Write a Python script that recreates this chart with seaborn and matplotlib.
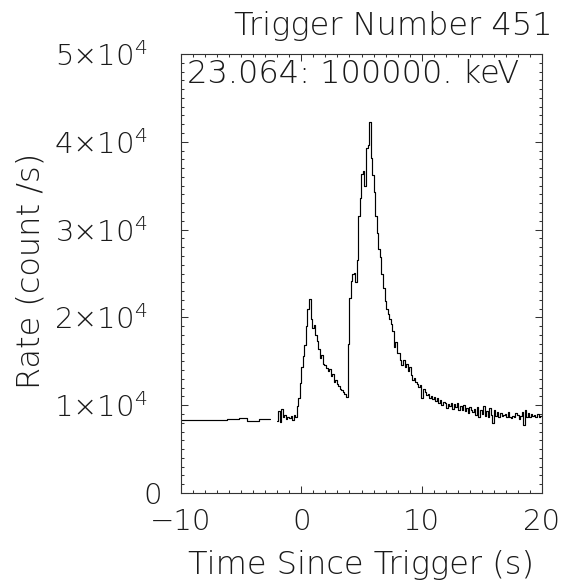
import numpy as np
import pandas as pd
import matplotlib
matplotlib.use("Agg")
import matplotlib.pyplot as plt
from matplotlib.ticker import FixedLocator, FixedFormatter, MultipleLocator
from matplotlib.transforms import ScaledTranslation
import seaborn as sns

# Pre-trigger 1.024 s data: bin edges (s) and rates (counts/s)
pre_edges = [-10.6, -9.55, -8.1, -6.6, -6.2, -5.2, -4.5, -3.55, -3.0, -2.6]
pre_rate = [8300, 8310, 8330, 8370, 8400, 8520, 8170, 8380, 8400]

# Post-trigger binned data, 0.128 s bins starting at -2.048 s (counts/s)
bin_start = -2.048
bin_width = 0.128
rate = [
    8200, 9300, 8100, 9600, 8600, 8900, 8400, 8700,
    8500, 8800, 8300, 8900, 8600, 9900, 10800, 12500,
    14400, 15600, 16800, 19000, 21000, 22100, 19800, 18800,
    19100, 18000, 17300, 16400, 15400, 15700, 14700, 14600,
    14200, 13900, 14100, 13300, 13500, 12600, 12900, 12400,
    12200, 11900, 11700, 11500, 11300, 10900, 17000, 22200,
    24200, 24900, 25100, 24000, 26500, 31500, 33600, 36300,
    36700, 35000, 39300, 39600, 42300, 38200, 36200, 34300,
    31500, 29600, 27800, 26900, 25000, 23300, 21900, 21000,
    20400, 19800, 19300, 18500, 16600, 17200, 15900, 16000,
    15200, 14600, 15100, 14300, 14700, 13900, 14300, 13400,
    12900, 13100, 12600, 12400, 12100, 12300, 10800, 11900,
    11500, 11200, 11300, 10800, 11100, 10700, 10900, 10500,
    10800, 10300, 10600, 10000, 10400, 10200, 9700, 10100,
    9900, 10300, 9600, 10100, 9800, 10200, 9500, 9900,
    9400, 10000, 9300, 9700, 9100, 9800, 9400, 9200,
    9600, 8900, 9800, 8700, 9500, 9000, 9900, 8800,
    9300, 8600, 9700, 8900, 8000, 9400, 8800, 9200,
    8700, 9100, 8800, 8900, 9000, 8600, 9200, 8700,
    8500, 8800, 8600, 9100, 8900, 8400, 8800, 9200,
    7700, 9400, 8700, 9100, 8600, 9000, 8800, 8900,
    8700, 9000, 8600, 8800, 8900, 8700, 8800, 8600,
]

x_ticks = [-10, 0, 10, 20]
x_tick_labels = ["\u221210", "0", "10", "20"]
y_ticks = [0, 10000, 20000, 30000, 40000, 50000]
y_tick_labels = ["0", "1\u00d710$^{4}$", "2\u00d710$^{4}$", "3\u00d710$^{4}$",
                 "4\u00d710$^{4}$", "5\u00d710$^{4}$"]

title = "Trigger Number 451"
band_label = "23.064: 100000. keV"
x_label = "Time Since Trigger (s)"
y_label = "Rate (count /s)"

sns.set_style("ticks")
plt.rcParams["font.family"] = ["DejaVu Sans"]
plt.rcParams["font.weight"] = "light"
plt.rcParams["axes.labelweight"] = "light"
plt.rcParams["mathtext.fontset"] = "custom"
plt.rcParams["mathtext.rm"] = "DejaVu Sans:light"
plt.rcParams["mathtext.default"] = "rm"

ink = "#1a1a1a"
fs_tick = 21
fs_text = 23

fig = plt.figure(figsize=(5.63, 5.84), dpi=100)
ax = fig.add_axes([181 / 563, 1 - 493 / 584, 361 / 563, 439 / 584])

t_mid = bin_start + bin_width * (np.arange(len(rate)) + 0.5)
post = pd.DataFrame({"time": t_mid, "rate": rate})
pre = pd.DataFrame({"time": pre_edges, "rate": pre_rate + [pre_rate[-1]]})

sns.lineplot(data=pre, x="time", y="rate", estimator=None, drawstyle="steps-post",
             color="k", linewidth=0.85, ax=ax)
sns.lineplot(data=post, x="time", y="rate", estimator=None, drawstyle="steps-mid",
             color="k", linewidth=0.85, ax=ax)

ax.set_xlim(-10, 20)
ax.set_ylim(0, 50000)

ax.xaxis.set_major_locator(FixedLocator(x_ticks))
ax.xaxis.set_major_formatter(FixedFormatter(x_tick_labels))
ax.xaxis.set_minor_locator(MultipleLocator(1))
ax.yaxis.set_major_locator(FixedLocator(y_ticks))
ax.yaxis.set_major_formatter(FixedFormatter(y_tick_labels))
ax.yaxis.set_minor_locator(MultipleLocator(1000))

ax.tick_params(which="both", direction="in", top=True, right=True,
               labeltop=False, labelright=False, color="#333333", width=0.75)
ax.tick_params(which="major", length=5)
ax.tick_params(which="minor", length=2.5)
ax.tick_params(axis="x", which="major", pad=11, labelsize=fs_tick, labelcolor=ink)
ax.tick_params(axis="y", which="major", pad=24, labelsize=fs_tick, labelcolor=ink)

# the plain zero label sits closer to the axis than the power-of-ten labels
zero_tick = ax.yaxis.get_major_ticks()[0]
zero_tick.label1.set_transform(zero_tick.label1.get_transform()
                               + ScaledTranslation(14 / 100, 0, fig.dpi_scale_trans))

for sp in ax.spines.values():
    sp.set_visible(True)
    sp.set_color("#333333")
    sp.set_linewidth(0.8)

ax.set_xlabel(x_label, fontsize=fs_text, color=ink)
ax.set_ylabel(y_label, fontsize=fs_text, color=ink)
ax.xaxis.set_label_coords(0.5, -0.13)
ax.yaxis.set_label_coords(-0.375, 0.505)

fig.text(553 / 563, 1 - 35 / 584, title, ha="right", va="baseline",
         fontsize=fs_text, color=ink)
ax.text(6 / 361, (493 - 83) / 439, band_label, transform=ax.transAxes,
        ha="left", va="baseline", fontsize=fs_text, color=ink)

fig.savefig("out.png", dpi=100, facecolor="white")
